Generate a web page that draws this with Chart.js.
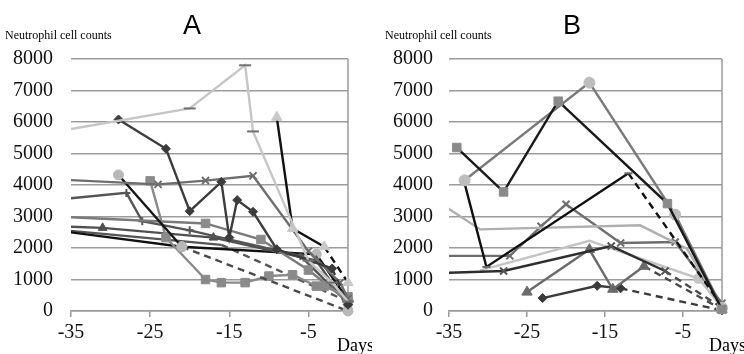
<!DOCTYPE html>
<html>
<head>
<meta charset="utf-8">
<script src="https://cdn.jsdelivr.net/npm/chart.js@4.4.0/dist/chart.umd.min.js"></script>
<style>
  body { margin: 0; background: #fff; }
  #wrap { position: relative; width: 744px; height: 354px; }
  canvas { position: absolute; top: 0; }
</style>
</head>
<body>
<div id="wrap">
  <canvas id="chartA" width="372" height="354" style="left:0"></canvas>
  <canvas id="chartB" width="372" height="354" style="left:372px"></canvas>
</div>
<script>
const dayTicks = [-35, -25, -15, -5];
const countTicks = [0, 1000, 2000, 3000, 4000, 5000, 6000, 7000, 8000];

// panel A, [day, neutrophil count]
const a1 = [[-37, 5690], [-20, 6430], [-13, 7800], [-12, 5700], [-5, 1600], [-2, 900], [0, 300]];
const a2 = [[-29, 6080], [-23, 5150], [-20, 3170], [-16, 4100], [-15, 2330], [-14, 3520], [-12, 3150], [-9, 1960], [-2, 1350], [0, 200]];
const a3 = [[-9, 6150], [-7, 2620], [-3, 2040], [0, 900]];
const a4 = [[-37, 4180], [-24, 4020], [-18, 4140], [-12, 4290], [-5, 1900], [-1, 900], [0, 400]];
const a5 = [[-29, 4320], [-21, 2040], [0, 0]];
const a6 = [[-25, 4130], [-23, 2330], [-18, 1000], [-16, 900], [-13, 900], [-10, 1110], [-7, 1150], [-4, 790], [-3, 790], [0, 450]];
const a7 = [[-37, 3000], [-18, 2780], [-11, 2270], [-5, 1300], [0, 300]];
const a8 = [[-37, 3530], [-28, 3750], [-26, 2850], [-20, 2560], [-6, 1750], [0, 250]];
const a9 = [[-37, 2690], [-31, 2640], [-17, 2330], [-4, 1600], [0, 150]];
const a10 = [[-37, 2560], [-21, 2040], [-4, 1800], [0, 350]];
const a11 = [[-37, 2590], [-16, 2100], [0, 300]];

// panel B
const b1 = [[-34, 5190], [-28, 3780], [-21, 6660], [-7, 3410], [0, 50]];
const b2 = [[-33, 4150], [-17, 7250], [-6, 3060], [0, 100]];
const b3 = [[-33, 4050], [-30.2, 1400], [-12, 4370], [0, 150]];
const b4 = [[-37, 3560], [-31, 2590], [-10.5, 2720], [-4.5, 1980], [0, 100]];
const b5 = [[-37, 1750], [-27.2, 1750], [-23.2, 2690], [-20, 3390], [-13, 2160], [-6, 2190], [0, 250]];
const b6 = [[-37, 1200], [-28, 1270], [-14.2, 2060], [-7.3, 1270], [0, 100]];
const b7 = [[-31, 1290], [-17, 2230], [-3, 1030], [0, 100]];
const b8 = [[-25, 600], [-17, 1950], [-14, 690], [-10, 1420], [0, 50]];
const b9 = [[-23, 410], [-16, 800], [-13, 720], [0, 20]];

const seriesA = [
  { data: a1, color: '#c6c6c6', marker: 'line', markerColor: '#707070', r: 6 },
  { data: a2, color: '#3c3c3c', marker: 'rectRot', r: 4.5, dashLast: true },
  { data: a3, color: '#111111', marker: 'triangle', markerColor: '#c8c8c8', r: 6, dashLast: true },
  { data: a4, color: '#6e6e6e', marker: 'crossRot', r: 5 },
  { data: a5, color: '#151515', marker: 'circle', markerColor: '#b8b8b8', r: 5, dashLast: true, dashColor: '#4a4a4a' },
  { data: a6, color: '#8a8a8a', marker: 'rect', r: 6 },
  { data: a7, color: '#7a7a7a', marker: 'rect', markerColor: '#8a8a8a', r: 6 },
  { data: a8, color: '#555555', marker: 'cross', r: 4 },
  { data: a9, color: '#505050', marker: 'triangle', r: 5 },
  { data: a10, color: '#111111', marker: 'circle', markerColor: '#b8b8b8', r: 5 },
  { data: a11, color: '#555555', dashLast: true }
];

const seriesB = [
  { data: b1, color: '#1a1a1a', marker: 'rect', markerColor: '#8a8a8a', r: 6 },
  { data: b2, color: '#7a7a7a', marker: 'circle', markerColor: '#bdbdbd', r: 5.5 },
  { data: b3, color: '#111111', marker: 'line', markerColor: '#666666', r: 4, dashLast: true },
  { data: b4, color: '#b0b0b0' },
  { data: b5, color: '#6e6e6e', marker: 'crossRot', r: 5 },
  { data: b6, color: '#2e2e2e', marker: 'crossRot', markerColor: '#555555', r: 5, dashLast: true, dashColor: '#4a4a4a' },
  { data: b7, color: '#c4c4c4', marker: 'circle', r: 5, markAt: [2] },
  { data: b8, color: '#6a6a6a', marker: 'triangle', r: 6, dashLast: true, dashColor: '#4a4a4a' },
  { data: b9, color: '#3a3a3a', marker: 'rectRot', r: 4.5, dashLast: true }
];

const serif = "'Liberation Serif', 'Times New Roman', serif";

function makeDatasets(list) {
  return list.map(s => {
    const mc = s.markerColor || s.color;
    const open = s.marker === 'crossRot' || s.marker === 'cross' || s.marker === 'line';
    const isLast = c => s.dashLast && c.p1DataIndex === s.data.length - 1;
    return {
      data: s.data.map(([x, y]) => ({ x, y })),
      borderColor: s.color,
      borderWidth: 2.4,
      pointStyle: s.marker || 'circle',
      pointRadius: c => !s.marker ? 0 : (s.markAt && !s.markAt.includes(c.dataIndex) ? 0 : s.r),
      pointBackgroundColor: mc,
      pointBorderColor: mc,
      pointBorderWidth: open ? 2 : 1,
      tension: 0,
      clip: { left: 0, right: 12, top: 12, bottom: 12 },
      segment: {
        borderDash: c => isLast(c) ? [7, 5] : undefined,
        borderColor: c => isLast(c) && s.dashColor ? s.dashColor : undefined
      }
    };
  });
}

const panelText = {
  id: 'panelText',
  beforeDatasetsDraw(chart) {
    const { ctx, chartArea } = chart;
    ctx.save();
    ctx.strokeStyle = '#9a9a9a';
    ctx.lineWidth = 1.5;
    ctx.beginPath();
    ctx.moveTo(chartArea.right, chartArea.top);
    ctx.lineTo(chartArea.right, chartArea.bottom);
    ctx.stroke();
    ctx.restore();
  },
  afterDraw(chart, args, opts) {
    const { ctx } = chart;
    ctx.save();
    ctx.fillStyle = '#000';
    ctx.font = '27px "Liberation Sans"';
    ctx.textAlign = 'center';
    ctx.textBaseline = 'middle';
    ctx.fillText(opts.letter, opts.letterX, 27);
    ctx.textAlign = 'left';
    ctx.textBaseline = 'alphabetic';
    ctx.font = '12px ' + serif;
    ctx.fillText('Neutrophil cell counts', opts.labelX, 39);
    ctx.font = '18px ' + serif;
    ctx.fillText('Days', 337, 351);
    ctx.restore();
  }
};

function makeChart(id, list, yWidth, padRight, tickPad, letter, letterX, labelX) {
  return new Chart(document.getElementById(id), {
    type: 'line',
    data: { datasets: makeDatasets(list) },
    options: {
      responsive: false,
      animation: false,
      devicePixelRatio: 1,
      layout: { padding: { top: 59, right: padRight, left: 0, bottom: 0 } },
      plugins: {
        legend: { display: false },
        tooltip: { enabled: false },
        panelText: { letter, letterX, labelX }
      },
      scales: {
        x: {
          type: 'linear',
          min: -35,
          max: 0,
          afterBuildTicks: s => { s.ticks = dayTicks.map(v => ({ value: v })); },
          afterFit: s => { s.height = 43; },
          grid: { drawOnChartArea: false, tickLength: 6, color: '#9a9a9a', lineWidth: 1.5 },
          border: { color: '#9a9a9a', width: 1.5 },
          ticks: { color: '#111', padding: 4, font: { family: serif, size: 20 }, callback: v => String(v) }
        },
        y: {
          min: 0,
          max: 8000,
          afterBuildTicks: s => { s.ticks = countTicks.map(v => ({ value: v })); },
          afterFit: s => { s.width = yWidth; },
          grid: { color: '#9c9c9c', lineWidth: 1.5, drawTicks: false },
          border: { display: false },
          ticks: { color: '#111', padding: tickPad, font: { family: serif, size: 20 }, callback: v => String(v) }
        }
      }
    },
    plugins: [panelText]
  });
}

makeChart('chartA', seriesA, 71, 24, 18, 'A', 192, 5);
makeChart('chartB', seriesB, 77, 22, 16, 'B', 200, 13);
</script>
</body>
</html>
